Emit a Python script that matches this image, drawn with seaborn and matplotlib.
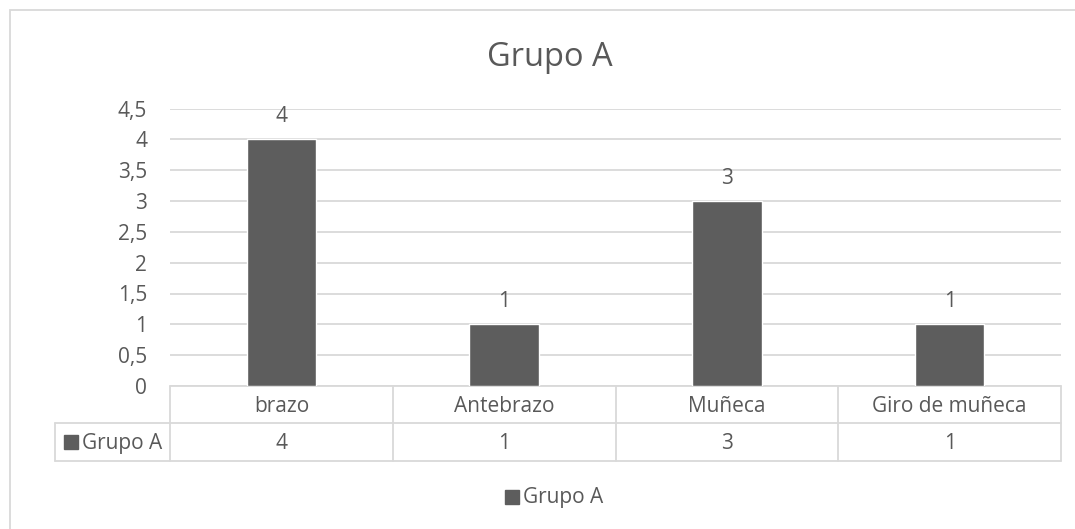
import matplotlib
matplotlib.use("Agg")
import matplotlib.pyplot as plt
import matplotlib.transforms as mtransforms
from matplotlib.patches import Rectangle
import seaborn as sns
import pandas as pd

# Data
categories = ["brazo", "Antebrazo", "Muñeca", "Giro de muñeca"]
values = [4, 1, 3, 1]
series_name = "Grupo A"
y_ticks = [0, 0.5, 1, 1.5, 2, 2.5, 3, 3.5, 4, 4.5]
y_tick_labels = ["0", "0,5", "1", "1,5", "2", "2,5", "3", "3,5", "4", "4,5"]

df = pd.DataFrame({"categoria": categories, "valor": values})

sns.set_theme(style="white")
plt.rcParams["font.family"] = ["Open Sans", "DejaVu Sans"]

TEXT = "#595959"
GRID = "#d9d9d9"
BAR = "#5d5d5d"
FS = 15

W, H = 1075, 529
fig = plt.figure(figsize=(W / 100, H / 100), dpi=100)


def fy(py):
    """Figure fraction for a pixel row measured from the top."""
    return 1 - py / H


# Outer chart frame (only left and top edges fall inside the canvas)
fig.patches.append(Rectangle((10 / W, -0.05), 1.2, fy(10) + 0.05,
                             transform=fig.transFigure, fill=False,
                             edgecolor=GRID, linewidth=1.3, zorder=0))

left, right = 170 / W, 1061 / W
bottom, top = fy(386), fy(108.5)
ax = fig.add_axes([left, bottom, right - left, top - bottom])

sns.barplot(data=df, x="categoria", y="valor", color=BAR, width=0.3125,
            saturation=1, ax=ax, zorder=3)

ax.set_xlim(-0.5, len(categories) - 0.5)
ax.set_ylim(0, 4.5)
ax.set_yticks(y_ticks)
ax.set_yticklabels(y_tick_labels)
ax.tick_params(axis="y", length=0, pad=16.5, labelsize=FS, labelcolor=TEXT)
ax.set_xticks([])
ax.set_xlabel("")
ax.set_ylabel("")
for s in ax.spines.values():
    s.set_visible(False)
ax.yaxis.grid(True, color=GRID, linewidth=1.3, zorder=0)
ax.set_axisbelow(True)

# Data labels above each bar
for i, v in enumerate(values):
    ax.annotate(str(v), (i, v), xytext=(0, 12.2), textcoords="offset points",
                ha="center", va="baseline", fontsize=FS, color=TEXT)

# Data table below the plot area
trans = mtransforms.blended_transform_factory(ax.transData, fig.transFigure)
y0 = fy(386)
y1 = fy(422.5)
y2 = fy(460.5)
xl = -0.5
xr = len(categories) - 0.5
# legend-key column position in data units
x_key_left = -0.5 - (170 - 55) / ((1061 - 170) / len(categories))

lw = 1.3
ax.plot([xl, xr], [y0, y0], transform=trans, color=GRID, lw=lw, clip_on=False)
ax.plot([x_key_left, xr], [y1, y1], transform=trans, color=GRID, lw=lw, clip_on=False)
ax.plot([x_key_left, xr], [y2, y2], transform=trans, color=GRID, lw=lw, clip_on=False)
ax.plot([x_key_left, x_key_left], [y1, y2], transform=trans, color=GRID, lw=lw, clip_on=False)
for k in range(len(categories) + 1):
    xs = -0.5 + k
    ax.plot([xs, xs], [y0, y2], transform=trans, color=GRID, lw=lw, clip_on=False)

for i, (c, v) in enumerate(zip(categories, values)):
    ax.text(i, fy(412.5), c, transform=trans, ha="center", va="baseline",
            fontsize=FS, color=TEXT)
    ax.text(i, fy(449), str(v), transform=trans, ha="center", va="baseline",
            fontsize=FS, color=TEXT)

# Series key in the table's first column
fig.patches.append(Rectangle((64 / W, fy(449)), 14 / W, 14 / H,
                             transform=fig.transFigure, color=BAR))
fig.text(82 / W, fy(449), series_name, ha="left", va="baseline",
         fontsize=FS, color=TEXT)

# Title
fig.text(550 / W, fy(66), series_name, ha="center", va="baseline",
         fontsize=23.5, color=TEXT)

# Bottom legend
fig.patches.append(Rectangle((505 / W, fy(504)), 14 / W, 14 / H,
                             transform=fig.transFigure, color=BAR))
fig.text(523 / W, fy(503), series_name, ha="left", va="baseline",
         fontsize=FS, color=TEXT)

fig.savefig("out.png", dpi=100)
